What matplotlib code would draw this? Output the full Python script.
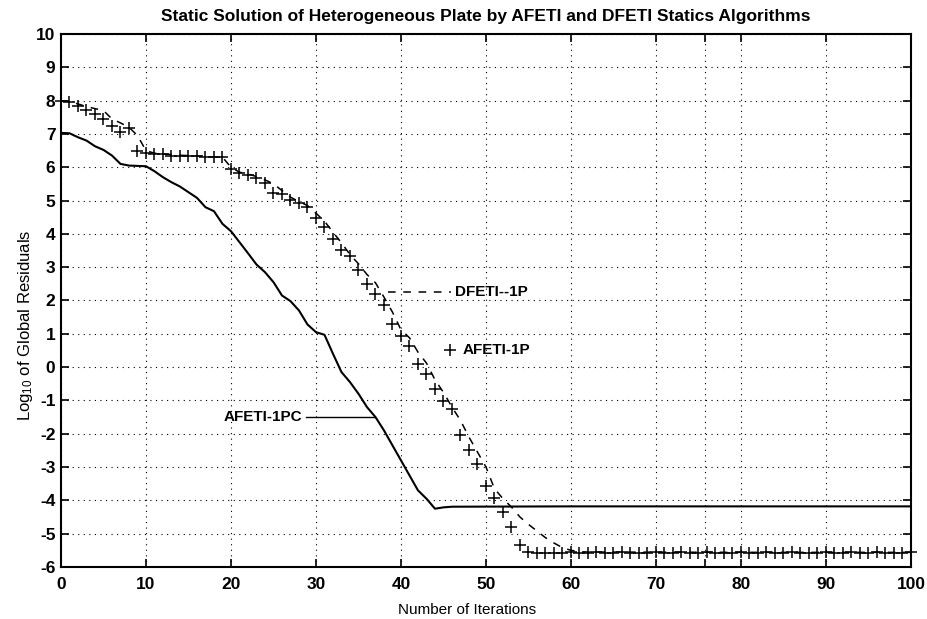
import matplotlib
matplotlib.use("Agg")
import matplotlib.pyplot as plt
from matplotlib.ticker import FixedLocator

plt.rcParams['font.family'] = ['Liberation Sans', 'DejaVu Sans']
plt.rcParams['axes.unicode_minus'] = False
plt.rcParams['mathtext.default'] = 'regular'

title = "Static Solution of Heterogeneous Plate by AFETI and DFETI Statics Algorithms"
xlabel = "Number of Iterations"
ylabel = "Log$_{10}$ of Global Residuals"

# AFETI-1PC (solid line)
iters_pc = list(range(0, 47)) + [60, 80, 100]
afeti_pc = [7.03, 7.02, 6.90, 6.80, 6.63, 6.52, 6.35, 6.10, 6.05, 6.04,
            6.03, 5.88, 5.70, 5.55, 5.42, 5.25, 5.08, 4.80, 4.68, 4.30,
            4.08, 3.75, 3.42, 3.08, 2.85, 2.55, 2.15, 1.98, 1.70, 1.28,
            1.05, 0.97, 0.40, -0.15, -0.45, -0.80, -1.20, -1.50, -1.90, -2.35,
            -2.80, -3.25, -3.70, -3.95, -4.25, -4.21, -4.19,
            -4.18, -4.18, -4.18]

# AFETI-1P (+ markers), one per iteration 0..100
iters_p = list(range(0, 101))
afeti_p = [8.00, 7.97, 7.83, 7.73, 7.60, 7.45, 7.23, 7.05, 7.17, 6.50,
           6.43, 6.40, 6.40, 6.33, 6.35, 6.35, 6.33, 6.30, 6.30, 6.30,
           5.95, 5.83, 5.78, 5.68, 5.53, 5.24, 5.21, 5.01, 4.94, 4.81,
           4.47, 4.20, 3.85, 3.51, 3.33, 2.91, 2.50, 2.20, 1.87, 1.30,
           0.94, 0.64, 0.08, -0.20, -0.66, -1.02, -1.25, -2.03, -2.48, -2.92,
           -3.57, -3.93, -4.36, -4.81, -5.33, -5.56, -5.57, -5.58, -5.57, -5.57,
           -5.56, -5.57, -5.57, -5.56, -5.57, -5.57, -5.56, -5.57, -5.57, -5.57,
           -5.56, -5.57, -5.57, -5.56, -5.57, -5.57, -5.56, -5.57, -5.57, -5.57,
           -5.56, -5.57, -5.57, -5.56, -5.57, -5.57, -5.56, -5.57, -5.57, -5.57,
           -5.56, -5.57, -5.57, -5.56, -5.57, -5.57, -5.56, -5.57, -5.57, -5.57,
           -5.56]

# DFETI-1P (dashed line)
iters_d = list(range(0, 63)) + [80, 100]
dfeti_p = [8.00, 7.97, 7.90, 7.82, 7.76, 7.70, 7.45, 7.33, 7.20, 6.95,
           6.50, 6.42, 6.40, 6.38, 6.36, 6.35, 6.34, 6.32, 6.31, 6.30,
           6.00, 5.85, 5.80, 5.72, 5.62, 5.50, 5.30, 5.10, 4.97, 4.85,
           4.62, 4.38, 4.05, 3.73, 3.38, 3.10, 2.78, 2.53, 2.10, 1.65,
           1.12, 0.88, 0.45, 0.12, -0.38, -0.76, -1.20, -1.60, -2.10, -2.55,
           -3.00, -3.65, -3.95, -4.20, -4.50, -4.72, -4.92, -5.12, -5.28, -5.42,
           -5.50, -5.54, -5.55, -5.56, -5.56]

xticks = list(range(0, 101, 10))
yticks = list(range(-6, 11))
extra_xtick = [75.8]

fig = plt.figure(figsize=(9.27, 6.19), dpi=100)
ax = fig.add_axes([0.0658, 0.0840, 0.9169, 0.8611])

ax.plot(iters_pc, afeti_pc, color='black', lw=1.5)
ax.plot(iters_d, dfeti_p, color='black', lw=1.1, dashes=(5, 5))
ax.plot(iters_p, afeti_p, ls='none', marker='+', ms=9, mew=1.1,
        color='black', clip_on=False, zorder=3)

# in-plot labels
ax.plot([38.5, 45.9], [2.25, 2.25], color='black', lw=1.1, dashes=(5, 5))
ax.text(46.35, 2.25, "DFETI--1P", ha='left', va='center',
        fontsize=11, fontweight='bold')
ax.plot([45.8], [0.5], ls='none', marker='+', ms=9, mew=1.1, color='black')
ax.text(47.3, 0.5, "AFETI-1P", ha='left', va='center',
        fontsize=11, fontweight='bold')
ax.plot([28.8, 36.9], [-1.5, -1.5], color='black', lw=1.0)
ax.text(28.35, -1.5, "AFETI-1PC", ha='right', va='center',
        fontsize=11, fontweight='bold')

ax.set_xlim(0, 100)
ax.set_ylim(-6, 10)
ax.set_xticks(xticks)
ax.set_yticks(yticks)
ax.xaxis.set_minor_locator(FixedLocator(extra_xtick))
ax.yaxis.set_minor_locator(FixedLocator([]))

ax.grid(True, which='major', color='black', lw=0.8, linestyle=(0, (1, 4)))
ax.grid(True, which='minor', axis='x', color='black', lw=0.8, linestyle=(0, (1, 4)))

ax.tick_params(axis='both', which='both', direction='in', length=6, width=1.2,
               top=True, right=True, labelsize=12.5)
ax.tick_params(axis='x', pad=7)
ax.tick_params(axis='y', pad=4)
for lab in ax.get_xticklabels() + ax.get_yticklabels():
    lab.set_fontweight('bold')
for sp in ax.spines.values():
    sp.set_linewidth(1.5)

ax.set_title(title, fontsize=12.5, fontweight='bold', pad=9)
ax.set_xlabel(xlabel, fontsize=11)
ax.xaxis.set_label_coords(0.478, -0.067)
ax.set_ylabel(ylabel, fontsize=12)
ax.yaxis.set_label_coords(-0.03, 0.454)

fig.savefig("out.png", dpi=100)
